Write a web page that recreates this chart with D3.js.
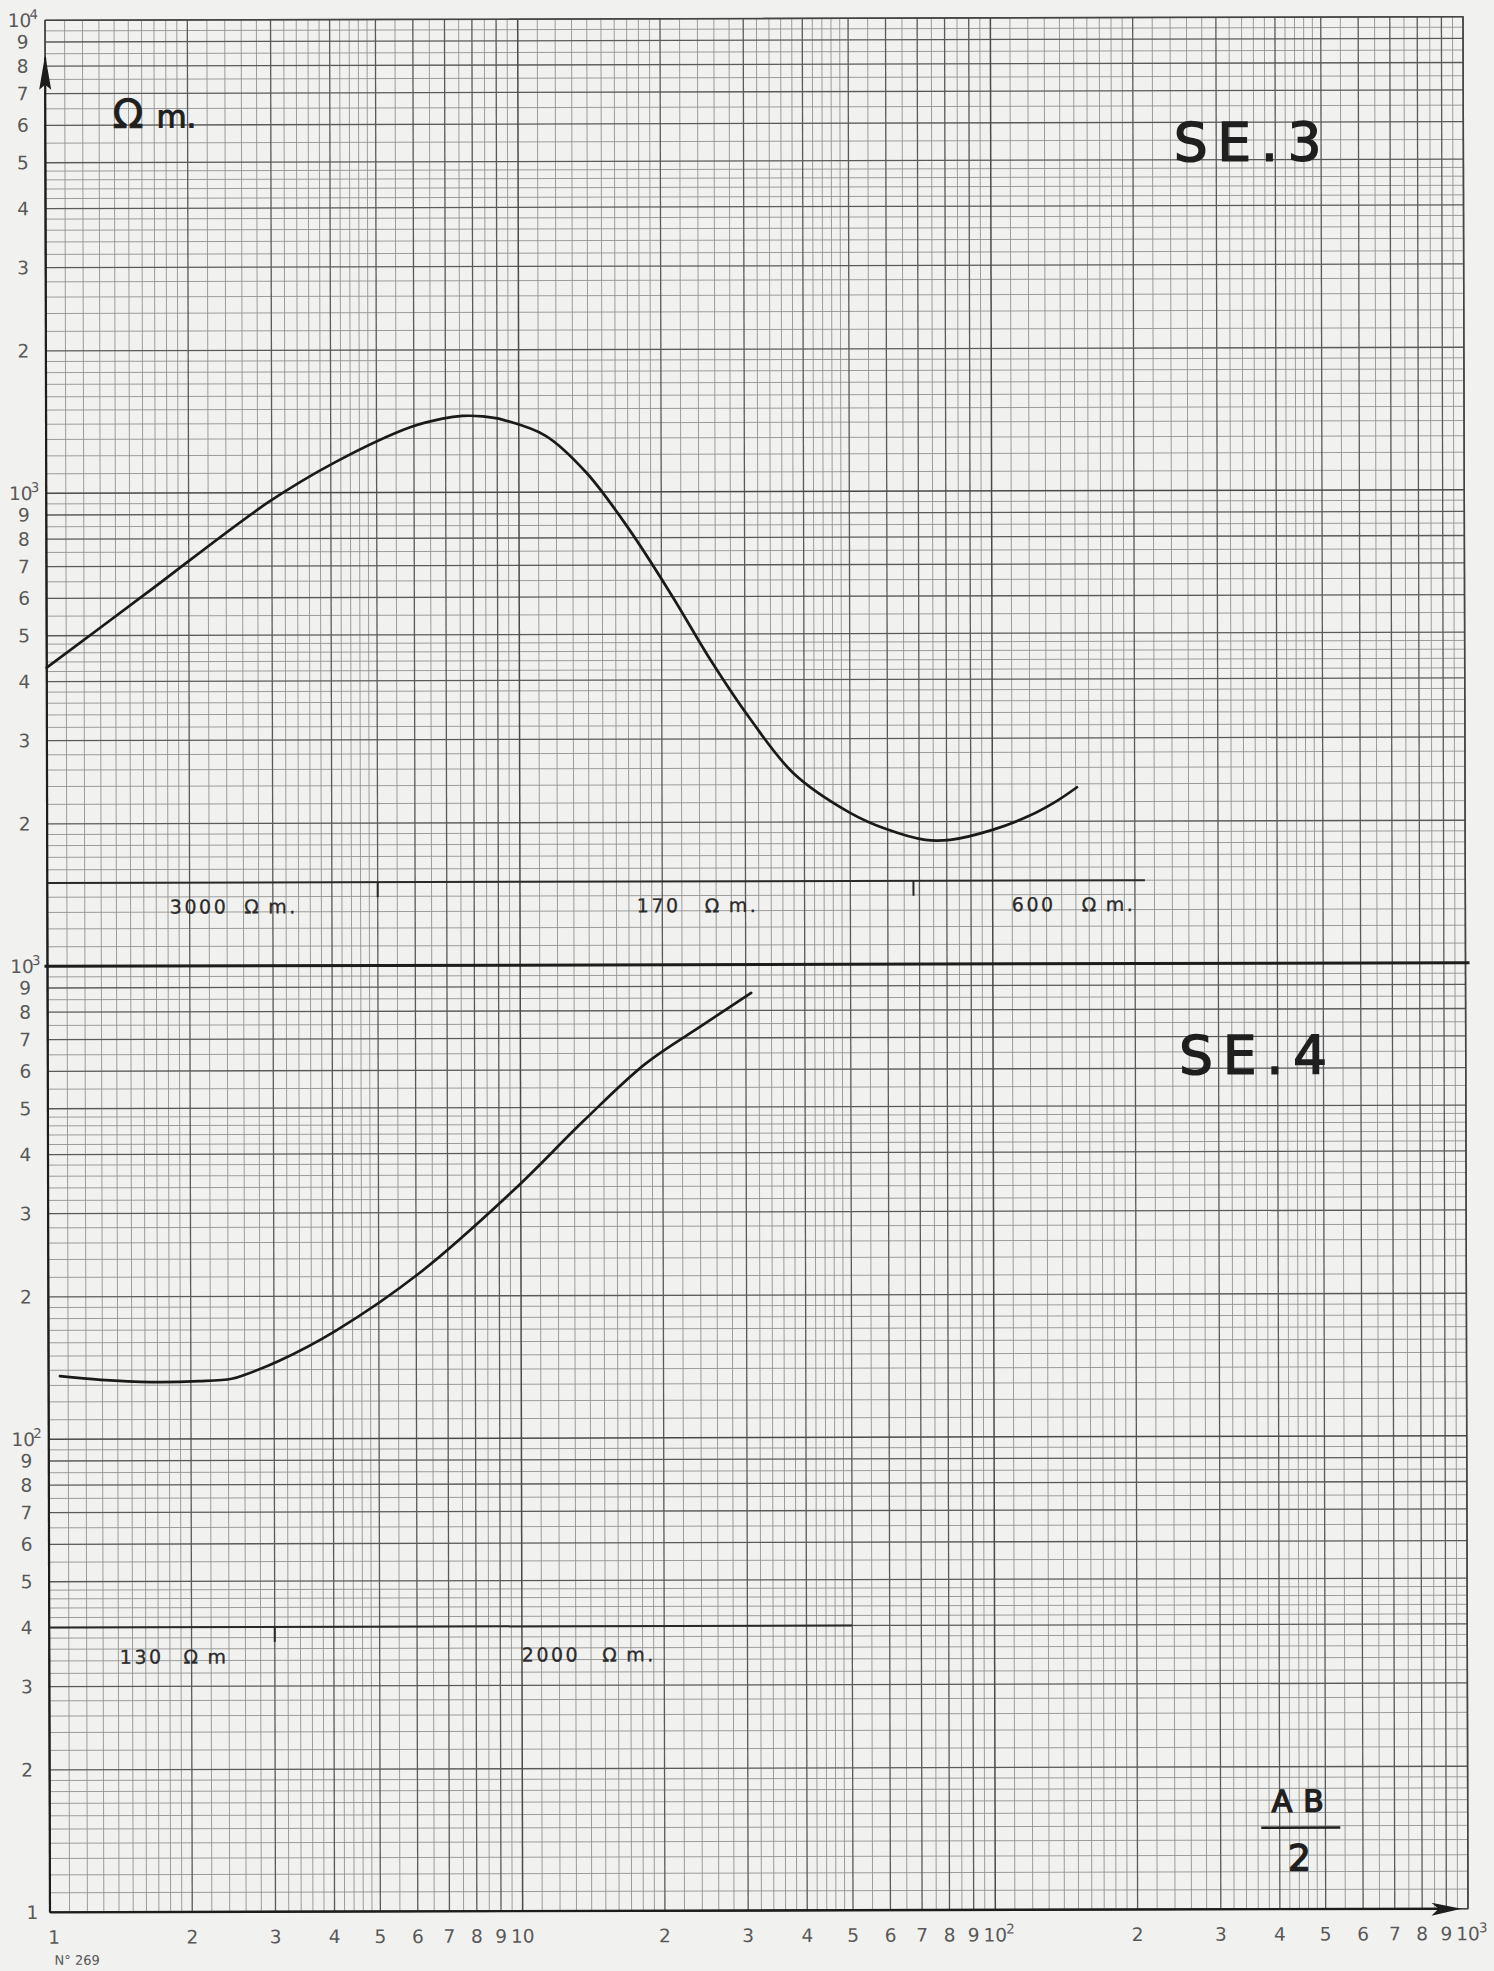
<!DOCTYPE html>
<html>
<head>
<meta charset="utf-8">
<script src="https://cdn.jsdelivr.net/npm/d3@7"></script>
<style>
  html, body { margin: 0; padding: 0; background: #f1f1ef; }
  svg { display: block; }
</style>
</head>
<body>
<svg id="chart" width="1494" height="1971"></svg>
<script>
// Electrical soundings SE.3 and SE.4 on log-log paper:
// half electrode spacing AB/2 (m) against apparent resistivity (ohm·m).

// --- SE.3 sounding curve (upper half of the sheet) ---
const se3AB  = [1.0, 1.63, 2.95, 4.09, 5.91, 6.9, 7.6, 8.4, 9.27, 11.4, 13.9, 17.1, 21.0, 25.4, 30.8, 37.9, 50.0, 59.6, 72.1, 81.4, 100, 119, 137, 151];
const se3Rho = [428, 615, 955, 1160, 1375, 1432, 1450, 1446, 1422, 1315, 1098, 833, 605, 440, 330, 254, 209, 193, 183, 183, 192, 205, 221, 236];

// --- SE.4 sounding curve (lower half of the sheet) ---
const se4AB  = [1.057, 1.29, 1.65, 2.08, 2.44, 2.62, 3.07, 4.05, 6.11, 9.68, 13.65, 18.4, 24.2, 30.8];
const se4Rho = [136, 133.5, 132, 132.5, 134, 137, 146, 169, 224, 335, 470, 618, 743, 871];

// --- interpreted layer models ---
const se3LayerRho = 150;                 // level of the model bar
const se3LayerEnd = 210;                 // AB/2 where the bar stops
const se3Boundaries = [5, 68];           // layer boundaries (m)
const se3LayerNames = ["3000", "170", "600"];

const se4LayerRho = 40;
const se4LayerEnd = 50;
const se4Boundaries = [3];
const se4LayerNames = ["130", "2000"];

// --- printed scale of the sheet ---
const xTickValues = [1,2,3,4,5,6,7,8,9,10,20,30,40,50,60,70,80,90,100,200,300,400,500,600,700,800,900,1000];
const xTickLabels = ["1","2","3","4","5","6","7","8","9","10","2","3","4","5","6","7","8","9","10^2","2","3","4","5","6","7","8","9","10^3"];
const yTickValues = [1,2,3,4,5,6,7,8,9,10,20,30,40,50,60,70,80,90,100,200,300,400,500,600,700,800,900,1000,2000,3000,4000,5000,6000,7000,8000,9000,10000];
const yTickLabels = ["1","2","3","4","5","6","7","8","9","10^2","2","3","4","5","6","7","8","9","10^3","2","3","4","5","6","7","8","9","10^3","2","3","4","5","6","7","8","9","10^4"];

// ---------------------------------------------------------------------
const frame = { left: 47.5, right: 1465.5, top: 18.5, bottom: 1910.5 };
const svg = d3.select("#chart");
svg.append("rect").attr("width", 1494).attr("height", 1971).attr("fill", "#f1f1ef");

// the whole sheet sits very slightly askew
const sheet = svg.append("g").attr("transform", "rotate(-0.15 756 965)");

const x = d3.scaleLog().domain([1, 1000]).range([frame.left, frame.right]);
const yPaper = d3.scaleLog().domain([1, 10000]).range([frame.bottom, frame.top]);
const yTop = d3.scaleLog().domain([100, 10000]).range([yPaper(100), yPaper(10000)]);
const yBot = d3.scaleLog().domain([10, 1000]).range([yPaper(1), yPaper(100)]);

// rulings of the log paper: 1-2 by tenths, 2-5 by fifths, 5-10 by halves
function rulings(lo, hi) {
  const minor = [], major = [], decade = [];
  for (let d = lo; d < hi; d *= 10) {
    decade.push(d);
    for (let m = 2; m < 10; m++) major.push(m * d);
    for (let k = 11; k < 20; k++) minor.push(k / 10 * d);
    for (let k = 22; k < 50; k += 2) if (k % 10 !== 0) minor.push(k / 10 * d);
    for (let k = 55; k < 100; k += 10) minor.push(k / 10 * d);
  }
  decade.push(hi);
  return { minor, major, decade };
}
const gx = rulings(1, 1000);
const gy = rulings(1, 10000);

const grid = sheet.append("g");
function vLines(vals, stroke, width) {
  grid.append("g").selectAll("line").data(vals).join("line")
    .attr("x1", d => x(d)).attr("x2", d => x(d))
    .attr("y1", frame.top).attr("y2", frame.bottom)
    .attr("stroke", stroke).attr("stroke-width", width);
}
function hLines(vals, stroke, width) {
  grid.append("g").selectAll("line").data(vals).join("line")
    .attr("y1", d => yPaper(d)).attr("y2", d => yPaper(d))
    .attr("x1", frame.left).attr("x2", frame.right)
    .attr("stroke", stroke).attr("stroke-width", width);
}
vLines(gx.minor, "#929292", 0.9);
hLines(gy.minor, "#929292", 0.9);
vLines(gx.major, "#5a5a5a", 1.3);
hLines(gy.major, "#5a5a5a", 1.3);
vLines(gx.decade, "#4a4a4a", 1.5);
hLines(gy.decade, "#4a4a4a", 1.5);

// frame
sheet.append("rect")
  .attr("x", frame.left).attr("y", frame.top)
  .attr("width", frame.right - frame.left).attr("height", frame.bottom - frame.top)
  .attr("fill", "none").attr("stroke", "#454545").attr("stroke-width", 1.4);

// tick labels
const tickFont = "'DejaVu Sans', sans-serif";
function label(g, txt, py, anchorX, expX, size) {
  const parts = txt.split("^");
  g.append("text").attr("x", anchorX).attr("y", py)
    .attr("text-anchor", "middle").attr("font-size", size)
    .attr("font-family", tickFont).attr("fill", "#585858").text(parts[0]);
  if (parts[1]) {
    g.append("text").attr("x", expX).attr("y", py - size * 0.42)
      .attr("font-size", size * 0.72).attr("font-family", tickFont)
      .attr("fill", "#585858").text(parts[1]);
  }
}
const yLab = sheet.append("g");
yTickValues.forEach((v, i) => {
  const t = yTickLabels[i];
  const py = yPaper(v) + 6.5;
  if (t.includes("^")) label(yLab, t, py, 22, 32, 18.5);
  else label(yLab, t, py, v === 1 ? 30 : 25, 0, 18.5);
});
const xLab = sheet.append("g");
xTickValues.forEach((v, i) => {
  const t = xTickLabels[i];
  const px = x(v);
  if (t.includes("^")) label(xLab, t, 1942, px, px + 11, 18.5);
  else label(xLab, t, 1942, v === 1 ? px + 4 : px, 0, 18.5);
});

// axes drawn over the frame, with arrow heads
const ink = "#1d1d1d";
sheet.append("line").attr("x1", frame.left).attr("x2", frame.left)
  .attr("y1", 56).attr("y2", frame.bottom).attr("stroke", ink).attr("stroke-width", 2.2);
sheet.append("line").attr("x1", frame.left).attr("x2", 1450)
  .attr("y1", frame.bottom).attr("y2", frame.bottom).attr("stroke", ink).attr("stroke-width", 2.4);
sheet.append("path")
  .attr("d", `M${frame.left},53 L${frame.left - 6},88 L${frame.left},83 L${frame.left + 6},88 Z`)
  .attr("fill", ink);
sheet.append("path")
  .attr("d", `M1459,${frame.bottom} L1429,${frame.bottom - 6} L1436,${frame.bottom} L1429,${frame.bottom + 7} Z`)
  .attr("fill", ink);

// divider between the two soundings
sheet.append("line").attr("x1", frame.left - 3).attr("x2", frame.right + 4)
  .attr("y1", yPaper(100)).attr("y2", yPaper(100))
  .attr("stroke", ink).attr("stroke-width", 3);

// layer model bars
function layerBar(yScale, rho, end, bounds) {
  const g = sheet.append("g");
  g.append("line").attr("x1", x(1)).attr("x2", x(end))
    .attr("y1", yScale(rho)).attr("y2", yScale(rho))
    .attr("stroke", "#2a2a2a").attr("stroke-width", 2);
  g.selectAll(".b").data(bounds).join("line")
    .attr("x1", d => x(d)).attr("x2", d => x(d))
    .attr("y1", yScale(rho)).attr("y2", yScale(rho) + 15)
    .attr("stroke", "#2a2a2a").attr("stroke-width", 2);
}
layerBar(yTop, se3LayerRho, se3LayerEnd, se3Boundaries);
layerBar(yBot, se4LayerRho, se4LayerEnd, se4Boundaries);

// hand-lettered resistivity labels of the layers
const letterFont = "'DejaVu Sans', sans-serif";
function layerText(px, py, value, gap, dot) {
  const t = sheet.append("text").attr("x", px).attr("y", py)
    .attr("font-family", letterFont).attr("font-size", 19)
    .attr("fill", "#2a2a2a").attr("stroke", "#2a2a2a").attr("stroke-width", 0.3)
    .attr("letter-spacing", 2.5);
  t.append("tspan").text(value);
  t.append("tspan").attr("dx", gap).text("Ω");
  t.append("tspan").attr("dx", 7).text(dot ? "m." : "m");
}
layerText(170, 912, se3LayerNames[0], 16, true);
layerText(637, 912, se3LayerNames[1], 24, true);
layerText(1012, 912, se3LayerNames[2], 26, true);
layerText(118, 1662, se4LayerNames[0], 20, false);
layerText(520, 1661, se4LayerNames[1], 22, true);

// sounding curves
const curveLine = (yScale) => d3.line()
  .x(d => x(d[0])).y(d => yScale(d[1]))
  .curve(d3.curveCatmullRom.alpha(0.5));
sheet.append("path")
  .datum(se3AB.map((a, i) => [a, se3Rho[i]]))
  .attr("d", curveLine(yTop))
  .attr("fill", "none").attr("stroke", "#1a1a1a").attr("stroke-width", 2.7)
  .attr("stroke-linecap", "round");
sheet.append("path")
  .datum(se4AB.map((a, i) => [a, se4Rho[i]]))
  .attr("d", curveLine(yBot))
  .attr("fill", "none").attr("stroke", "#1a1a1a").attr("stroke-width", 2.7)
  .attr("stroke-linecap", "round");

// unit, titles and abscissa name
const u = sheet.append("text").attr("x", 115).attr("y", 126)
  .attr("font-family", letterFont).attr("fill", "#1f1f1f")
  .attr("stroke", "#1f1f1f").attr("stroke-width", 1);
u.append("tspan").attr("font-size", 40).text("Ω");
u.append("tspan").attr("font-size", 31).attr("dx", 13).text("m.");

[["SE.3", 1176, 162], ["SE.4", 1179, 1075]].forEach(([t, tx, ty]) => {
  sheet.append("text").attr("x", tx).attr("y", ty)
    .attr("font-family", letterFont).attr("font-size", 53)
    .attr("letter-spacing", 10).attr("fill", "#1f1f1f")
    .attr("stroke", "#1f1f1f").attr("stroke-width", 1.6).text(t);
});

sheet.append("text").attr("x", 1301).attr("y", 1813).attr("text-anchor", "middle")
  .attr("font-family", letterFont).attr("font-size", 30)
  .attr("stroke", "#1f1f1f").attr("stroke-width", 1.4)
  .attr("letter-spacing", 11).attr("fill", "#1f1f1f").text("AB");
sheet.append("line").attr("x1", 1259).attr("x2", 1338).attr("y1", 1829).attr("y2", 1829)
  .attr("stroke", "#1f1f1f").attr("stroke-width", 2.5);
sheet.append("text").attr("x", 1297).attr("y", 1872).attr("text-anchor", "middle")
  .attr("font-family", letterFont).attr("font-size", 36)
  .attr("stroke", "#1f1f1f").attr("stroke-width", 1.4)
  .attr("fill", "#1f1f1f").text("2");

// sheet number
sheet.append("text").attr("x", 52).attr("y", 1963)
  .attr("font-family", tickFont).attr("font-size", 13).attr("fill", "#555")
  .text("N° 269");
</script>
</body>
</html>
